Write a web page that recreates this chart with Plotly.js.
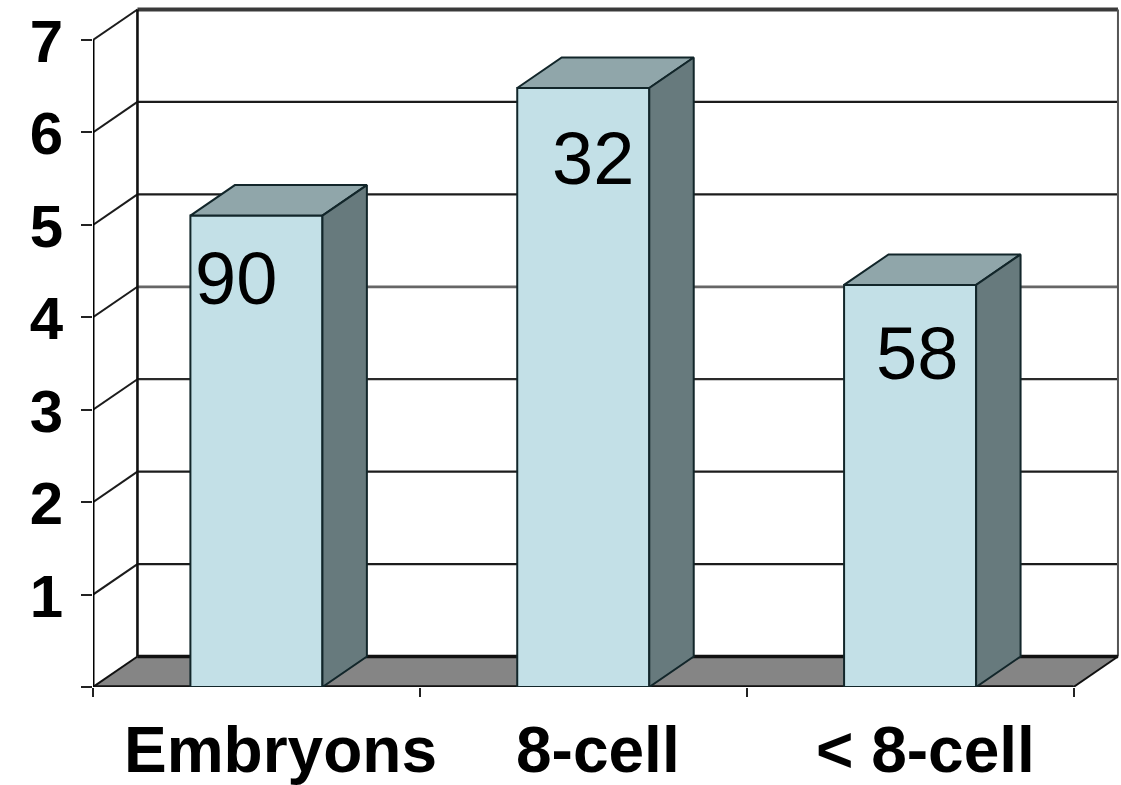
<!DOCTYPE html>
<html>
<head>
<meta charset="utf-8">
<script src="https://cdn.plot.ly/plotly-3.0.1.min.js"></script>
<style>html,body{margin:0;padding:0;background:#fff}#chart{width:1121px;height:785px;filter:blur(0.6px)}</style>
</head>
<body>
<div id="chart"></div>
<script>
// Data
const categories = ['Embryons', '8-cell', '< 8-cell'];
const values = [5.10, 6.48, 4.35];
const counts = ['90', '32', '58'];
const yTicks = [0, 1, 2, 3, 4, 5, 6, 7];
const yTickLabels = ['', '1', '2', '3', '4', '5', '6', '7'];

// Presentation constants
const pos = categories.map((_, i) => i);
const barW = 0.404, dx = 0.136, dy = 0.33;
const x0 = -0.5, x1 = 2.5, yTop = 7;
const countDx = [-0.063, 0.03, 0.02];
const countDy = [0.68, 0.76, 0.74];
const catDx = [0.073, 0.044, 0.047];
const gridStyle = [
  ['#1c1c1c', 2.2], ['#1c1c1c', 2.2], ['#2a2a2a', 2.2], ['#666', 2.8],
  ['#1c1c1c', 2.2], ['#1c1c1c', 2.2], ['#3a3a3a', 4]
];
const ink = '#12262a';
const front = '#c3e0e7', top_ = '#90a6aa', side = '#677a7d', floor = '#858585';
const sans = '"Liberation Sans", Arial, sans-serif';

const poly = (xs, ys, fill, name) => ({
  type: 'scatter', mode: 'lines', x: xs, y: ys, fill: 'toself', fillcolor: fill,
  line: {color: ink, width: 2}, hoverinfo: 'skip', showlegend: false, cliponaxis: false, name
});

const traces = [];
// front faces
traces.push({
  type: 'bar', x: pos, y: values, width: barW, name: 'front',
  marker: {color: front, line: {color: ink, width: 2}}, hoverinfo: 'skip', showlegend: false
});
// top + side faces
pos.forEach((p, i) => {
  const l = p - barW / 2, r = p + barW / 2, v = values[i];
  traces.push(poly([l, r, r + dx, l + dx, l], [v, v, v + dy, v + dy, v], top_, 'top'));
  traces.push(poly([r, r + dx, r + dx, r, r], [0, dy, v + dy, v, 0], side, 'side'));
});

const shapes = [];
const seg = (xa, ya, xb, yb, color, width) => shapes.push({
  type: 'line', xref: 'x', yref: 'y', x0: xa, y0: ya, x1: xb, y1: yb,
  line: {color, width}, layer: 'below'
});
// floor
shapes.push({
  type: 'path', xref: 'x', yref: 'y', layer: 'below', fillcolor: floor, line: {width: 0},
  path: `M${x0},0 L${x1},0 L${x1 + dx},${dy} L${x0 + dx},${dy} Z`
});
// back wall gridlines + side wall diagonals
yTicks.slice(1).forEach((t, i) => {
  seg(x0 + dx, t + dy, x1 + dx, t + dy, gridStyle[i][0], gridStyle[i][1]);
  seg(x0, t, x0 + dx, t + dy, '#1c1c1c', 2);
});
seg(x0 + dx, dy, x0 + dx, yTop + dy, '#111', 2.6);      // back left edge
seg(x1 + dx, dy, x1 + dx, yTop + dy, '#555', 2);        // back right edge
seg(x0 + dx, dy, x1 + dx, dy, '#111', 3.4);             // floor back edge
seg(x0, 0, x0 + dx, dy, '#111', 2);
seg(x1, 0, x1 + dx, dy, '#111', 2);
seg(x0, 0, x1, 0, '#111', 3.4);                         // floor front edge

const annotations = [];
counts.forEach((c, i) => annotations.push({
  x: pos[i] + countDx[i], y: values[i] - countDy[i], text: c, showarrow: false,
  xanchor: 'center', yanchor: 'middle', font: {family: sans, size: 74, color: '#000'}
}));
const L = 92.5, B = 98, T = 5, R = 1;
categories.forEach((c, i) => annotations.push({
  x: pos[i] + catDx[i], yref: 'paper', y: -63 / (785 - B - T), text: c.replace('<', '&lt;'), showarrow: false,
  xanchor: 'center', yanchor: 'middle', font: {family: sans, size: 64, color: '#000', weight: 700}
}));

const layout = {
  width: 1121, height: 785, paper_bgcolor: '#fff', plot_bgcolor: '#fff',
  margin: {l: L, r: R, t: T, b: B, pad: 0, autoexpand: false},
  showlegend: false, shapes, annotations,
  xaxis: {
    range: [x0, x0 + (1121 - R - L) / 327], showgrid: false, zeroline: false, showline: false,
    tickmode: 'array', tickvals: [-0.5, 0.5, 1.5, 2.5], ticktext: ['', '', '', ''],
    ticks: 'outside', ticklen: 9, tickwidth: 2, tickcolor: '#222'
  },
  yaxis: {
    range: [0, (785 - B - T) / 92.43], showgrid: false, zeroline: false, showline: false,
    tickmode: 'array', tickvals: yTicks, ticktext: yTickLabels,
    ticks: 'outside', ticklen: 11, tickwidth: 2, tickcolor: '#222',
    ticklabelstandoff: 6, ticklabelshift: 1,
    tickfont: {family: sans, size: 60, color: '#000', weight: 700}
  }
};
// front vertical axis, drawn last so it sits on the plot edge, unclipped
traces.push({
  type: 'scatter', mode: 'lines', x: [x0, x0], y: [0, yTop],
  line: {color: '#000', width: 3}, hoverinfo: 'skip', showlegend: false, cliponaxis: false
});
Plotly.newPlot('chart', traces, layout, {displayModeBar: false, staticPlot: true});
</script>
</body>
</html>
